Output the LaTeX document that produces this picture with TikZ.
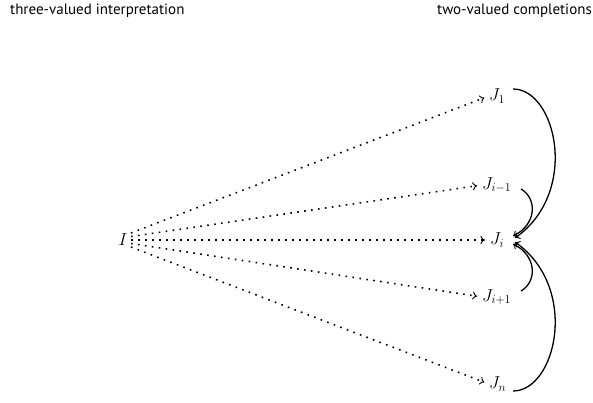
\documentclass[tikz,border=0pt]{standalone}
\usepackage{fontspec}
\setmainfont{PT Sans}
\usetikzlibrary{arrows.meta,calc}
\begin{document}
\begin{tikzpicture}[x=1pt,y=-1pt,
  hdr/.style={font=\fontsize{15}{18}\selectfont, inner sep=0pt},
  jn/.style={font=\fontsize{18}{21}\selectfont, inner sep=0pt},
  dotarrow/.style={line width=1.6pt, dash pattern=on 1.6pt off 5.4pt, shorten >=5pt, -{To[length=4.5pt,width=8pt,line width=0.9pt]}},
  curvearrow/.style={line width=1.3pt, -{To[length=4.5pt,width=8pt,line width=0.9pt]}}]
\useasboundingbox (0,0) rectangle (593,403);
\node[hdr, anchor=west] (h1) at (10,11) {three-valued interpretation};
\node[hdr, anchor=east] (h2) at (592,11) {two-valued completions};
\node[jn] (I) at (123,240) {$I$};
\node[jn, anchor=west] (J1) at (489,96) {$J_1$};
\node[jn, anchor=west] (Jim) at (482,185) {$J_{i-1}$};
\node[jn, anchor=west] (Ji) at (490,240) {$J_i$};
\node[jn, anchor=west] (Jip) at (482,297) {$J_{i+1}$};
\node[jn, anchor=west] (Jn) at (489,384) {$J_n$};
\coordinate (s1) at (131,233);
\coordinate (s2) at (131,236.5);
\coordinate (s3) at (131,240);
\coordinate (s4) at (131,243.5);
\coordinate (s5) at (131,247);
\draw[dotarrow] (s1) -- (J1.west);
\draw[dotarrow] (s2) -- (Jim.west);
\draw[dotarrow] (s3) -- (Ji.west);
\draw[dotarrow] (s4) -- (Jip.west);
\draw[dotarrow] (s5) -- (Jn.west);
\coordinate (c1) at (513,89);
\coordinate (c2) at (521,189);
\coordinate (c4) at (521,291);
\coordinate (c5) at (513,391);
\coordinate (t1) at (515,238);
\coordinate (t2) at (513,236);
\coordinate (t4) at (513,244);
\coordinate (t5) at (515,242);
\draw[curvearrow] (c1) .. controls (556,89) and (580,192) .. (t1);
\draw[curvearrow] (c2) .. controls (538,199) and (536,225) .. (t2);
\draw[curvearrow] (c4) .. controls (538,281) and (536,255) .. (t4);
\draw[curvearrow] (c5) .. controls (556,391) and (580,288) .. (t5);
\end{tikzpicture}
\end{document}
